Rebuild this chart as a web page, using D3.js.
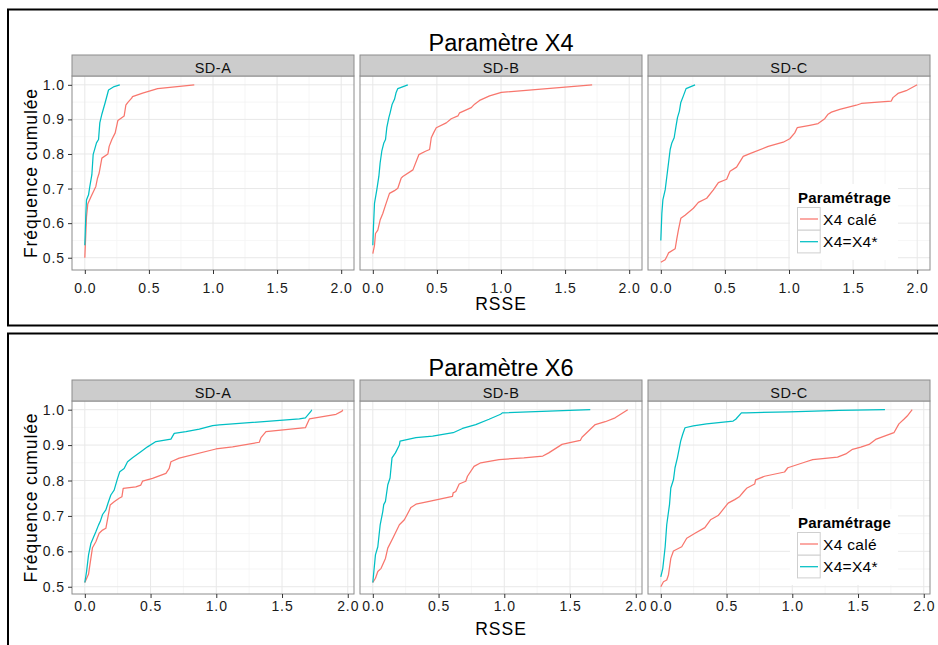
<!DOCTYPE html>
<html><head><meta charset="utf-8">
<script src="https://cdn.jsdelivr.net/npm/d3@7"></script>
<style>body{margin:0;background:#fff}svg{display:block}</style>
</head><body>
<svg id="c" width="938" height="645"></svg>
<script>
// ---------- data ----------
const categories = ["SD-A", "SD-B", "SD-C"];
const seriesNames = ["X4 calé", "X4=X4*"];
const seriesColors = ["#F8766D", "#00BFC4"];
const titles = ["Paramètre X4", "Paramètre X6"];
const xTicks = [0, 0.5, 1.0, 1.5, 2.0];
const yTicks = [0.5, 0.6, 0.7, 0.8, 0.9, 1.0];
const xLabel = "RSSE";
const yLabel = "Fréquence cumulée";
const legendTitle = "Paramétrage";

// Paramètre X4
const x4_A_cale = [[0,.5],[.013,.618],[.023,.655],[.049,.677],[.086,.706],[.099,.730],[.112,.745],[.133,.788],[.180,.800],[.190,.822],[.211,.842],[.237,.861],[.258,.897],[.307,.910],[.320,.941],[.336,.949],[.367,.962],[.372,.966],[.451,.976],[.568,.989],[.854,1.0]];
const x4_A_star = [[0,.536],[.008,.628],[.013,.667],[.029,.682],[.039,.706],[.055,.740],[.065,.798],[.091,.832],[.107,.842],[.117,.890],[.133,.915],[.159,.949],[.185,.985],[.229,.995],[.273,1.0]];
const x4_B_cale = [[0,.512],[.013,.536],[.021,.570],[.039,.580],[.057,.609],[.078,.628],[.099,.652],[.130,.686],[.169,.694],[.195,.701],[.221,.730],[.234,.735],[.313,.754],[.359,.798],[.411,.808],[.443,.813],[.456,.847],[.474,.861],[.495,.876],[.573,.890],[.612,.902],[.664,.910],[.677,.919],[.768,.934],[.794,.944],[.833,.955],[.911,.968],[1.003,.978],[1.711,1.0]];
const x4_B_star = [[0,.536],[.005,.589],[.013,.657],[.031,.696],[.047,.735],[.057,.774],[.070,.808],[.086,.832],[.099,.842],[.109,.876],[.125,.905],[.135,.919],[.151,.944],[.169,.958],[.182,.978],[.195,.989],[.273,1.0]];
const x4_C_cale = [[0,.487],[.034,.494],[.052,.507],[.060,.514],[.112,.526],[.125,.555],[.137,.580],[.156,.614],[.189,.623],[.254,.643],[.293,.660],[.358,.672],[.410,.696],[.449,.717],[.514,.727],[.540,.750],[.591,.762],[.643,.793],[.695,.801],[.838,.822],[.955,.834],[1.006,.844],[1.045,.861],[1.064,.876],[1.162,.883],[1.227,.888],[1.279,.902],[1.305,.915],[1.331,.921],[1.396,.929],[1.525,.941],[1.564,.946],[1.798,.953],[1.811,.963],[1.850,.975],[1.914,.983],[2.0,1.0]];
const x4_C_star = [[0,.550],[.008,.628],[.016,.667],[.034,.696],[.047,.735],[.060,.774],[.073,.813],[.086,.832],[.104,.847],[.119,.881],[.130,.905],[.145,.924],[.156,.949],[.176,.968],[.197,.989],[.267,1.0]];

// Paramètre X6
const x6_A_cale = [[0,.512],[.028,.535],[.046,.580],[.058,.610],[.084,.627],[.109,.651],[.135,.660],[.160,.665],[.193,.731],[.223,.740],[.261,.750],[.282,.754],[.292,.778],[.388,.782],[.426,.787],[.439,.798],[.515,.806],[.617,.820],[.642,.834],[.655,.853],[.718,.863],[.997,.889],[1.124,.895],[1.327,.908],[1.340,.921],[1.378,.938],[1.678,.949],[1.708,.974],[1.911,.987],[1.957,.996],[1.962,1.0]];
const x6_A_star = [[0,.512],[.013,.542],[.028,.589],[.046,.622],[.063,.637],[.084,.655],[.104,.674],[.117,.684],[.135,.704],[.160,.717],[.180,.740],[.198,.759],[.223,.773],[.249,.806],[.266,.825],[.299,.834],[.325,.853],[.363,.864],[.426,.881],[.477,.895],[.541,.910],[.655,.917],[.680,.933],[.769,.938],[.871,.945],[.972,.955],[1.023,.957],[1.632,.974],[1.678,.977],[1.721,.996],[1.726,1.0]];
const x6_B_cale = [[0,.512],[.020,.524],[.038,.543],[.063,.552],[.096,.580],[.114,.609],[.152,.637],[.202,.675],[.240,.689],[.290,.724],[.328,.733],[.429,.741],[.606,.755],[.611,.765],[.631,.769],[.657,.790],[.707,.798],[.720,.812],[.770,.840],[.821,.850],[.960,.859],[1.149,.864],[1.293,.869],[1.338,.878],[1.439,.902],[1.490,.906],[1.578,.913],[1.591,.922],[1.692,.958],[1.768,.966],[1.843,.977],[1.939,1.0]];
const x6_B_star = [[0,.512],[.020,.590],[.038,.613],[.056,.675],[.076,.713],[.083,.732],[.096,.741],[.114,.788],[.131,.807],[.146,.864],[.172,.878],[.202,.900],[.207,.911],[.328,.921],[.455,.925],[.611,.935],[.682,.947],[.783,.958],[.884,.973],[.972,.987],[.985,.991],[1.654,1.0]];
const x6_C_cale = [[0,.500],[.020,.514],[.045,.519],[.058,.533],[.076,.580],[.096,.601],[.159,.613],[.197,.637],[.260,.651],[.335,.667],[.378,.689],[.436,.701],[.462,.713],[.512,.736],[.562,.746],[.600,.755],[.631,.769],[.656,.779],[.714,.790],[.721,.802],[.789,.812],[.941,.824],[.966,.836],[1.105,.853],[1.155,.859],[1.344,.866],[1.407,.875],[1.458,.888],[1.521,.894],[1.584,.902],[1.634,.916],[1.773,.935],[1.811,.960],[1.849,.973],[1.874,.982],[1.912,1.0]];
const x6_C_star = [[0,.528],[.015,.552],[.033,.613],[.045,.675],[.066,.732],[.076,.779],[.096,.802],[.108,.836],[.126,.864],[.141,.892],[.151,.911],[.166,.930],[.184,.949],[.247,.954],[.348,.960],[.550,.968],[.570,.973],[.613,.991],[.651,.991],[.979,.994],[1.357,.998],[1.705,1.0]];

const figData = [
  [[x4_A_cale, x4_A_star], [x4_B_cale, x4_B_star], [x4_C_cale, x4_C_star]],
  [[x6_A_cale, x6_A_star], [x6_B_cale, x6_B_star], [x6_C_cale, x6_C_star]]
];

// ---------- layout ----------
const FONT = "'Liberation Sans', Arial, sans-serif";
const panelX = [72, 360, 648], panelW = 282;
const figs = [
  {box: [8, 9.5, 945, 316], titleY: 51, stripTop: 55, top: 76, bottom: 270,
   xDom: [-0.1, 2.1], yDom: [0.4645, 1.0255], tickLabY: 292.5, xTitleY: 310, legTop: 184},
  {box: [8, 333.5, 945, 400], titleY: 376, stripTop: 380, top: 401, bottom: 594,
   xDom: [-0.0975, 2.0475], yDom: [0.4795, 1.0245], tickLabY: 611, xTitleY: 635, legTop: 509}
];

const svg = d3.select("#c");
svg.append("rect").attr("width", 938).attr("height", 645).attr("fill", "#fff");

figs.forEach((f, fi) => {
  const g = svg.append("g");
  g.append("rect").attr("x", f.box[0]).attr("y", f.box[1]).attr("width", f.box[2]).attr("height", f.box[3])
    .attr("fill", "none").attr("stroke", "#000").attr("stroke-width", 2);

  g.append("text").attr("x", 501).attr("y", f.titleY).attr("text-anchor", "middle")
    .attr("font-family", FONT).attr("font-size", 23.5).attr("fill", "#000").text(titles[fi]);

  const y = d3.scaleLinear().domain(f.yDom).range([f.bottom, f.top]);

  categories.forEach((cat, pi) => {
    const x0 = panelX[pi];
    const x = d3.scaleLinear().domain(f.xDom).range([x0, x0 + panelW]);
    const p = g.append("g");
    p.append("rect").attr("x", x0).attr("y", f.top).attr("width", panelW).attr("height", f.bottom - f.top).attr("fill", "#fff");
    const xMinor = [0.25, 0.75, 1.25, 1.75];
    const yMinor = [0.55, 0.65, 0.75, 0.85, 0.95];
    p.selectAll(null).data(xMinor).enter().append("line")
      .attr("x1", d => x(d)).attr("x2", d => x(d)).attr("y1", f.top).attr("y2", f.bottom)
      .attr("stroke", "#F4F4F4").attr("stroke-width", 0.8);
    p.selectAll(null).data(yMinor).enter().append("line")
      .attr("x1", x0).attr("x2", x0 + panelW).attr("y1", d => y(d)).attr("y2", d => y(d))
      .attr("stroke", "#F4F4F4").attr("stroke-width", 0.8);
    p.selectAll(null).data(xTicks).enter().append("line")
      .attr("x1", d => x(d)).attr("x2", d => x(d)).attr("y1", f.top).attr("y2", f.bottom)
      .attr("stroke", "#E8E8E8").attr("stroke-width", 1);
    p.selectAll(null).data(yTicks).enter().append("line")
      .attr("x1", x0).attr("x2", x0 + panelW).attr("y1", d => y(d)).attr("y2", d => y(d))
      .attr("stroke", "#E8E8E8").attr("stroke-width", 1);

    const line = d3.line().x(d => x(d[0])).y(d => y(d[1]));
    figData[fi][pi].forEach((s, si) => {
      p.append("path").datum(s).attr("d", line).attr("fill", "none")
        .attr("stroke", seriesColors[si]).attr("stroke-width", 1.25).attr("stroke-linejoin", "round");
    });

    p.append("rect").attr("x", x0).attr("y", f.top).attr("width", panelW).attr("height", f.bottom - f.top)
      .attr("fill", "none").attr("stroke", "#8C8C8C").attr("stroke-width", 1);
    p.append("rect").attr("x", x0).attr("y", f.stripTop).attr("width", panelW).attr("height", f.top - f.stripTop)
      .attr("fill", "#CCCCCC").attr("stroke", "#8C8C8C").attr("stroke-width", 1);
    p.append("text").attr("x", x0 + panelW / 2).attr("y", f.top - 3.5).attr("text-anchor", "middle")
      .attr("font-family", FONT).attr("font-size", 14.5).attr("letter-spacing", 0.5).attr("fill", "#111").text(cat);

    const xa = p.append("g").attr("transform", `translate(0,${f.bottom})`)
      .call(d3.axisBottom(x).tickValues(xTicks).tickSize(4).tickSizeOuter(0).tickFormat(d3.format(".1f")));
    xa.select(".domain").remove();
    xa.selectAll(".tick line").attr("stroke", "#333");
    xa.selectAll(".tick text").remove();
    p.selectAll(null).data(xTicks).enter().append("text")
      .attr("x", d => x(d) + 0.5).attr("y", f.tickLabY).attr("text-anchor", "middle")
      .attr("font-family", FONT).attr("font-size", 14).attr("letter-spacing", 0.9).attr("fill", "#1a1a1a")
      .text(d => d3.format(".1f")(d));

    if (pi === 0) {
      const ya = p.append("g").attr("transform", `translate(${x0},0)`)
        .call(d3.axisLeft(y).tickValues(yTicks).tickSize(4).tickSizeOuter(0));
      ya.select(".domain").remove();
      ya.selectAll(".tick line").attr("stroke", "#333");
      ya.selectAll(".tick text").remove();
      p.selectAll(null).data(yTicks).enter().append("text")
        .attr("x", x0 - 7).attr("y", d => y(d) + 5).attr("text-anchor", "end")
        .attr("font-family", FONT).attr("font-size", 14).attr("letter-spacing", 0.9).attr("fill", "#1a1a1a")
        .text(d => d3.format(".1f")(d));
    }
  });

  g.append("text").attr("x", 501).attr("y", f.xTitleY).attr("text-anchor", "middle")
    .attr("font-family", FONT).attr("font-size", 17.5).attr("letter-spacing", 1.0).attr("fill", "#000").text(xLabel);
  g.append("text").attr("transform", `translate(37,${(f.top + f.bottom) / 2}) rotate(-90)`)
    .attr("text-anchor", "middle").attr("font-family", FONT).attr("font-size", 17.5).attr("letter-spacing", 0.9)
    .attr("fill", "#000").text(yLabel);

  const lg = g.append("g").attr("transform", `translate(790,${f.legTop})`);
  lg.append("rect").attr("x", 0).attr("y", 0).attr("width", 108).attr("height", 76).attr("fill", "#fff");
  lg.append("text").attr("x", 8).attr("y", 18.5).attr("font-family", FONT).attr("font-weight", "bold")
    .attr("font-size", 15).attr("letter-spacing", 0.2).attr("fill", "#000").text(legendTitle);
  seriesNames.forEach((nm, i) => {
    const ky = 23.5 + i * 22.7;
    lg.append("rect").attr("x", 7.5).attr("y", ky).attr("width", 22.7).attr("height", 22.7)
      .attr("fill", "#fff").attr("stroke", "#CFCFCF").attr("stroke-width", 1);
    lg.append("line").attr("x1", 10).attr("x2", 28).attr("y1", ky + 11.5).attr("y2", ky + 11.5)
      .attr("stroke", seriesColors[i]).attr("stroke-width", 1.25);
    lg.append("text").attr("x", 33).attr("y", ky + 17).attr("font-family", FONT)
      .attr("font-size", 15.5).attr("letter-spacing", 0.3).attr("fill", "#000").text(nm);
  });
});
</script>
</body></html>
